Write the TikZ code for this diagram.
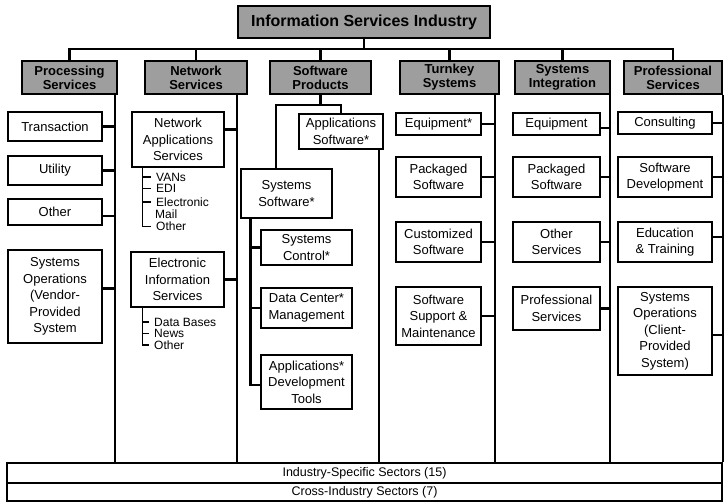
\documentclass[tikz,border=0pt]{standalone}
\usepackage{fontspec}
\setmainfont{Liberation Sans}
\begin{document}
\begin{tikzpicture}[x=1pt,y=-1pt,
  hdr/.style={draw, line width=1.6pt, fill=black!38, align=center, inner sep=1pt,
    font=\bfseries\fontsize{13}{14}\selectfont},
  box/.style={draw, line width=1.4pt, fill=white, align=center, inner sep=1pt,
    font=\fontsize{13}{16.5}\selectfont},
  item/.style={anchor=west, inner xsep=5pt, inner ysep=0pt,
    font=\fontsize{12}{12}\selectfont},
  conn/.style={line width=2.4pt},
  brk/.style={line width=1.3pt},
  sector/.style={draw, line width=1.3pt, minimum width=715pt, inner sep=0pt,
    font=\fontsize{12.5}{14}\selectfont}
]
\useasboundingbox (0,0) rectangle (724,502);

% ---- top of the hierarchy ----
\node[hdr, minimum width=252pt, minimum height=32pt,
      font=\bfseries\fontsize{16}{18}\selectfont] (top) at (364,22) {Information Services Industry};

% ---- sector headers ----
\node[hdr, minimum width=95pt,  minimum height=33pt] (ps) at (69.5,77.5)  {Processing\\Services};
\node[hdr, minimum width=102pt, minimum height=33pt] (ns) at (196,77.5)   {Network\\Services};
\node[hdr, minimum width=101pt, minimum height=33pt] (sp) at (320.5,77.5) {Software\\Products};
\node[hdr, minimum width=99pt,  minimum height=33pt] (ts) at (449.5,77.5) {Turnkey\\Systems};
\node[hdr, minimum width=95pt,  minimum height=33pt] (si) at (562.5,77.5) {Systems\\Integration};
\node[hdr, minimum width=98pt,  minimum height=33pt] (pr) at (673,77.5)   {Professional\\Services};

% ---- bottom sector bands ----
\node[sector, minimum height=20pt] (ind)   at (364.5,473) {Industry-Specific Sectors (15)};
\node[sector, minimum height=18pt] (cross) at (364.5,492) {Cross-Industry Sectors (7)};

% ---- bus from the top box to the headers ----
\draw[conn] (top.south) -- ++(0,10) coordinate (hub);
\draw[conn] (ps.north) |- (hub) -| (pr.north);
\foreach \h in {ns,sp,ts,si} \draw[conn] (\h.north) -- (\h.north |- hub);

% ---- Processing Services ----
\node[box, minimum width=94pt, minimum height=29pt] (tr) at (55,126.5) {Transaction};
\node[box, minimum width=94pt, minimum height=29pt] (ut) at (55,170.5) {Utility};
\node[box, minimum width=94pt, minimum height=26pt] (ot) at (55,212)   {Other};
\node[box, minimum width=94pt, minimum height=93pt] (so) at (55,296.5)
  {Systems\\Operations\\(Vendor-\\Provided\\System};
\coordinate (psl) at ([xshift=-3pt]ps.south east);
\draw[conn] (psl) -- (psl |- ind.north);
\draw[conn] (tr.east) -- (tr.east -| psl);
\draw[conn] (ut.east) -- (ut.east -| psl);
\draw[conn] ([yshift=-4pt]ot.east) -- ([yshift=-4pt]ot.east -| psl);
\draw[conn] ([yshift=8pt]so.east) -- ([yshift=8pt]so.east -| psl);

% ---- Network Services ----
\node[box, minimum width=92pt, minimum height=55pt] (nas) at (178,139.5)
  {Network\\Applications\\Services};
\node[box, minimum width=93pt, minimum height=55pt] (eis) at (177.5,279.5)
  {Electronic\\Information\\Services};
\coordinate (nsl) at ([xshift=-11pt]ns.south east);
\draw[conn] (nsl) -- (nsl |- ind.north);
\draw[conn] ([yshift=10pt]nas.east) -- ([yshift=10pt]nas.east -| nsl);
\draw[conn] (eis.east) -- (eis.east -| nsl);

\coordinate (nb) at ([xshift=11pt]nas.south west);
\node[item] (vans) at (151,177) {VANs};
\node[item] (edi)  at (151,188.5) {EDI};
\node[item] (elec) at (151,202) {Electronic};
\node[item] (mail) at (150,214.5) {Mail};
\node[item] (oth1) at (151,226.5) {Other};
\foreach \n in {vans,edi,elec} \draw[brk] (\n.west) -- (\n.west -| nb);
\draw[brk] (nb) |- (oth1.west);

\coordinate (eb) at ([xshift=12pt]eis.south west);
\node[item] (db)   at (149,322) {Data Bases};
\node[item] (news) at (149,333.5) {News};
\node[item] (oth2) at (149,345) {Other};
\draw[brk] (db.west) -- (db.west -| eb);
\draw[brk] (news.west) -- (news.west -| eb);
\draw[brk] (eb) |- (oth2.west);

% ---- Software Products ----
\node[box, minimum width=84pt, minimum height=35pt] (appl) at (341,131.5) {Applications\\Software*};
\node[box, minimum width=91pt, minimum height=49pt] (sys)  at (286.5,193.5) {Systems\\Software*};
\node[box, minimum width=91pt, minimum height=35pt] (sc) at (306.5,247.5) {Systems\\Control*};
\node[box, minimum width=91pt, minimum height=40pt] (dc) at (306.5,308)   {Data Center*\\Management};
\node[box, minimum width=91pt, minimum height=54pt] (ad) at (306.5,382)   {Applications*\\Development\\Tools};
\draw[conn] (sp.south) -- ++(0,10) coordinate (spb);
\draw[conn] (appl.north) |- (spb) -| ([xshift=-10.5pt]sys.north);
\coordinate (spl) at ([xshift=-5pt]appl.south east);
\draw[conn] (spl) -- (spl |- ind.north);
\coordinate (sb) at ([xshift=10pt]sys.south west);
\draw[conn] (sb) |- ([yshift=-3pt]ad.west);
\draw[conn] (sc.west) -- (sc.west -| sb);
\draw[conn] (dc.west) -- (dc.west -| sb);

% ---- Turnkey Systems ----
\node[box, minimum width=85pt, minimum height=22pt] (te)  at (438.5,124) {Equipment*};
\node[box, minimum width=85pt, minimum height=40pt] (tp)  at (438.5,177) {Packaged\\Software};
\node[box, minimum width=85pt, minimum height=40pt] (tc)  at (438.5,242) {Customized\\Software};
\node[box, minimum width=85pt, minimum height=58pt] (tss) at (438.5,316) {Software\\Support \&\\Maintenance};
\coordinate (tsl) at ([xshift=-5pt]ts.south east);
\draw[conn] (tsl) -- (tsl |- ind.north);
\foreach \n in {te,tp,tc,tss} \draw[conn] (\n.east) -- (\n.east -| tsl);

% ---- Systems Integration ----
\node[box, minimum width=87pt, minimum height=22pt] (se)    at (556.5,124)   {Equipment};
\node[box, minimum width=87pt, minimum height=40pt] (sps)   at (556.5,177)   {Packaged\\Software};
\node[box, minimum width=87pt, minimum height=40pt] (sos)   at (556.5,242)   {Other\\Services};
\node[box, minimum width=87pt, minimum height=43pt] (sprof) at (556.5,308.5) {Professional\\Services};
\coordinate (sil) at ([xshift=-1pt]si.south east);
\draw[conn] (sil) -- (sil |- ind.north);
\draw[conn] ([yshift=-4pt]se.east) -- ([yshift=-4pt]se.east -| sil);
\foreach \n in {sps,sos,sprof} \draw[conn] (\n.east) -- (\n.east -| sil);

% ---- Professional Services ----
\node[box, minimum width=94pt, minimum height=22pt] (pc)  at (665,123) {Consulting};
\node[box, minimum width=94pt, minimum height=40pt] (psd) at (665,177) {Software\\Development};
\node[box, minimum width=94pt, minimum height=40pt] (pe)  at (665,242) {Education\\\& Training};
\node[box, minimum width=94pt, minimum height=88pt] (pso) at (665,331)
  {Systems\\Operations\\(Client-\\Provided\\System)};
\coordinate (prl) at (pr.south east);
\draw[conn] (prl) -- (prl |- ind.north);
\draw[conn] (pc.east) -- (pc.east -| prl);
\draw[conn] (psd.east) -- (psd.east -| prl);
\draw[conn] ([yshift=5pt]pe.east) -- ([yshift=5pt]pe.east -| prl);
\draw[conn] ([yshift=-4pt]pso.east) -- ([yshift=-4pt]pso.east -| prl);
\end{tikzpicture}
\end{document}
